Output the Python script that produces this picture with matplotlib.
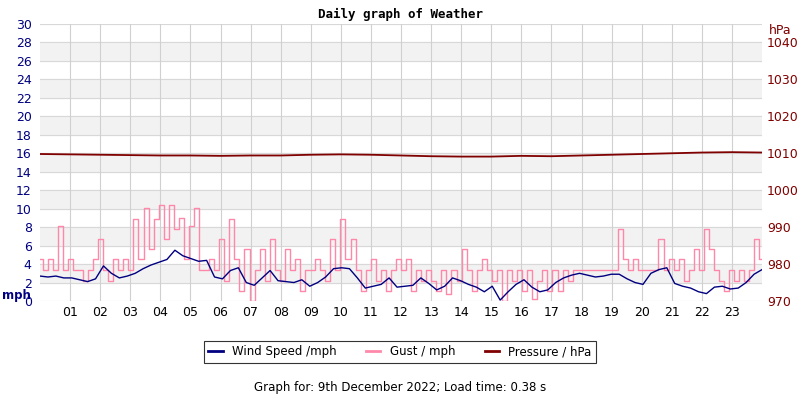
import numpy as np
import matplotlib.pyplot as plt
from matplotlib.lines import Line2D

hour_labels = ["%02d" % h for h in range(1, 24)]
wind = [2.7,2.6,2.7,2.5, 2.5,2.3,2.1,2.4, 3.8,3.0,2.5,2.7, 3.0,3.5,3.9,4.2,
        4.5,5.5,4.9,4.6, 4.3,4.4,2.6,2.4, 3.3,3.6,2.0,1.7, 2.5,3.3,2.2,2.1,
        2.0,2.3,1.6,2.0, 2.6,3.5,3.6,3.5, 2.5,1.4,1.6,1.8, 2.5,1.5,1.6,1.7,
        2.5,1.9,1.2,1.6, 2.5,2.2,1.8,1.5, 1.0,1.6,0.1,1.0, 1.8,2.3,1.5,1.0,
        1.2,2.0,2.5,2.8, 3.0,2.8,2.6,2.7, 2.9,2.9,2.4,2.0, 1.8,3.0,3.4,3.6,
        1.9,1.6,1.4,1.0, 0.8,1.5,1.6,1.3, 1.4,2.0,2.9,3.4]
gust = [4.5,3.4,4.5,3.4,8.1,3.4, 4.5,3.4,3.4,2.2,3.4,4.5, 6.7,3.4,2.2,4.5,3.4,4.5,
        3.4,8.9,4.5,10.1,5.6,8.9, 10.4,6.7,10.4,7.8,9.0,4.5, 8.1,10.1,3.4,3.4,4.5,3.4,
        6.7,2.2,8.9,4.5,1.1,5.6, 0.0,3.4,5.6,2.2,6.7,3.4, 2.2,5.6,3.4,4.5,1.1,3.4,
        3.4,4.5,3.4,2.2,6.7,3.4, 8.9,4.5,6.7,3.4,1.1,3.4, 4.5,2.2,3.4,1.1,3.4,4.5,
        3.4,4.5,1.1,3.4,2.2,3.4, 2.2,1.1,3.4,0.8,3.4,2.2, 5.6,3.4,1.1,3.4,4.5,3.4,
        2.2,3.4,0.0,3.4,2.2,3.4, 1.1,3.4,0.2,2.2,3.4,1.1, 3.4,1.1,3.4,2.2,3.4,3.4,
        3.4,3.4,3.4,3.4,3.4,3.4, 3.4,7.8,4.5,3.4,4.5,3.4, 3.4,3.4,3.4,6.7,3.4,4.5,
        3.4,4.5,2.2,3.4,5.6,3.4, 7.8,5.6,3.4,2.2,1.1,3.4, 2.2,3.4,2.2,3.4,6.7,4.5]
pressure = [1009.8,1009.7,1009.6,1009.5,1009.4,1009.4,1009.3,1009.4,1009.4,1009.6,
            1009.7,1009.6,1009.4,1009.2,1009.1,1009.1,1009.3,1009.2,1009.4,1009.6,
            1009.8,1010.0,1010.2,1010.3,1010.2]

tw = np.linspace(0, 24, len(wind))
tg = np.linspace(0, 24, len(gust))
tp = np.linspace(0, 24, len(pressure))

fig = plt.figure(figsize=(8, 4), dpi=100)
ax = fig.add_axes([0.05, 0.2475, 0.9025, 0.6925])
for y0 in range(2, 30, 4):
    ax.axhspan(y0, y0 + 2, color='#f2f2f2', zorder=0)
for y in range(0, 31, 2):
    ax.axhline(y, color='#d8d8d8', lw=0.8, zorder=0.5)
for h in range(1, 24):
    ax.axvline(h, color='#d0d0d0', lw=0.8, zorder=0.5)
ax.plot(tg, gust, color='#ff88aa', lw=1, zorder=2, drawstyle='steps-mid')
ax.plot(tw, wind, color='#000080', lw=1, zorder=3)
ax.set_xlim(0, 24)
ax.set_ylim(0, 30)
ax.set_yticks(range(0, 31, 2))
ax.set_xticks(range(1, 24))
ax.set_xticklabels(hour_labels, fontsize=9)
ax.tick_params(axis='y', colors='#000080', labelsize=9, length=0, pad=6)
ax.tick_params(axis='x', length=0, labelsize=9)
for s in ax.spines.values():
    s.set_visible(False)
ax2 = ax.twinx()
ax2.plot(tp, pressure, color='#800000', lw=1.3, zorder=4)
ax2.set_ylim(970, 1045)
ax2.set_yticks(range(970, 1041, 10))
ax2.tick_params(axis='y', colors='#800000', labelsize=9, length=0)
for s in ax2.spines.values():
    s.set_visible(False)

fig.text(0.5, 0.965, "Daily graph of Weather", ha='center', va='center',
         family='DejaVu Sans Mono', weight='bold', fontsize=9)
fig.text(0.002, 0.262, "mph", color='#000080', weight='bold', fontsize=8.5, va='center')
fig.text(0.975, 0.925, "hPa", color='#800000', fontsize=9, ha='center', va='center')

handles = [Line2D([], [], color='#000080', lw=2), Line2D([], [], color='#ff88aa', lw=2),
           Line2D([], [], color='#800000', lw=2)]
leg = fig.legend(handles, ["Wind Speed /mph", "Gust / mph", "Pressure / hPa"],
                 loc='center', bbox_to_anchor=(0.5, 0.12), ncol=3, fontsize=8.5,
                 frameon=True, fancybox=False, edgecolor='black', handlelength=1.2,
                 columnspacing=2.5)
leg.get_frame().set_linewidth(0.8)
fig.text(0.5, 0.032, "Graph for: 9th December 2022; Load time: 0.38 s", ha='center',
         va='center', fontsize=8.5)
fig.savefig("out.png", dpi=100)
